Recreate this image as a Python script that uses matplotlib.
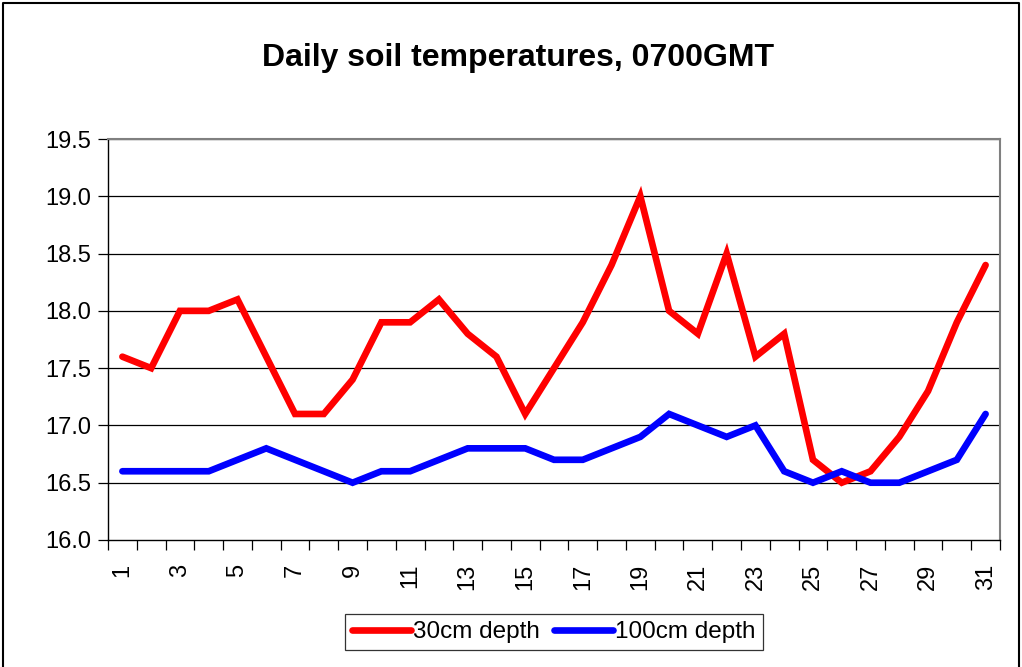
import matplotlib
matplotlib.use("Agg")
import matplotlib.pyplot as plt
from matplotlib.lines import Line2D

plt.rcParams['font.family'] = ['Liberation Sans', 'DejaVu Sans']

days = list(range(1, 32))
depth30 = [17.6, 17.5, 18.0, 18.0, 18.1, 17.6, 17.1, 17.1, 17.4, 17.9, 17.9, 18.1, 17.8, 17.6, 17.1,
           17.5, 17.9, 18.4, 19.0, 18.0, 17.8, 18.5, 17.6, 17.8, 16.7, 16.5, 16.6, 16.9, 17.3, 17.9, 18.4]
depth100 = [16.6, 16.6, 16.6, 16.6, 16.7, 16.8, 16.7, 16.6, 16.5, 16.6, 16.6, 16.7, 16.8, 16.8, 16.8,
            16.7, 16.7, 16.8, 16.9, 17.1, 17.0, 16.9, 17.0, 16.6, 16.5, 16.6, 16.5, 16.5, 16.6, 16.7, 17.1]
yticks = [16.0, 16.5, 17.0, 17.5, 18.0, 18.5, 19.0, 19.5]
title = "Daily soil temperatures, 0700GMT"
labels = ["30cm depth", "100cm depth"]

W, H = 1022, 667
fig = plt.figure(figsize=(W / 100, H / 100), dpi=100)
ax = fig.add_axes([108 / W, 1 - 540 / H, (1000 - 108) / W, (540 - 139) / H])

for y in yticks[1:]:
    ax.axhline(y, color='black', lw=0.9, zorder=1)

l1, = ax.plot(days, depth30, color='#ff0000', lw=4.8, solid_capstyle='round',
              solid_joinstyle='miter', zorder=3)
l2, = ax.plot(days, depth100, color='#0000ff', lw=4.8, solid_capstyle='round',
              solid_joinstyle='miter', zorder=3)

ax.set_xlim(0.5, 31.5)
ax.set_ylim(16.0, 19.5)
ax.set_yticks(yticks)
ax.set_yticklabels([f"{v:.1f}" for v in yticks], fontsize=17)
ax.tick_params(axis='y', direction='out', length=7, width=0.9, pad=5)

# category boundaries as tick marks, labels at odd days
ax.set_xticks([d + 0.5 for d in [0] + days])
ax.set_xticklabels([])
ax.tick_params(axis='x', which='major', direction='out', length=7, width=0.9)
ax.set_xticks(days[::2], minor=True)
ax.set_xticklabels([str(d) for d in days[::2]], minor=True, rotation=90, fontsize=17)
ax.tick_params(axis='x', which='minor', length=0, pad=17)

for s in ['left', 'bottom']:
    ax.spines[s].set_color('black')
    ax.spines[s].set_linewidth(1.0)
for s in ['top', 'right']:
    ax.spines[s].set_color('#808080')
    ax.spines[s].set_linewidth(1.5)

fig.text(518 / W, 1 - 58 / H, title, ha='center', va='center', fontsize=23, fontweight='bold')

leg = fig.legend([l1, l2], labels, loc='center', bbox_to_anchor=(554 / W, 1 - 632 / H),
                 ncol=2, fontsize=17.5, frameon=True, fancybox=False, edgecolor='black',
                 handlelength=2.4, handletextpad=0.1, columnspacing=0.6, borderpad=0.3)
leg.get_frame().set_linewidth(0.9)

# chart area border
fig.add_artist(Line2D([3 / W, 3 / W, 1019 / W, 1019 / W], [0, 1 - 3 / H, 1 - 3 / H, 0],
                      transform=fig.transFigure, color='black', lw=1.5))

fig.savefig('out.png', dpi=100)
